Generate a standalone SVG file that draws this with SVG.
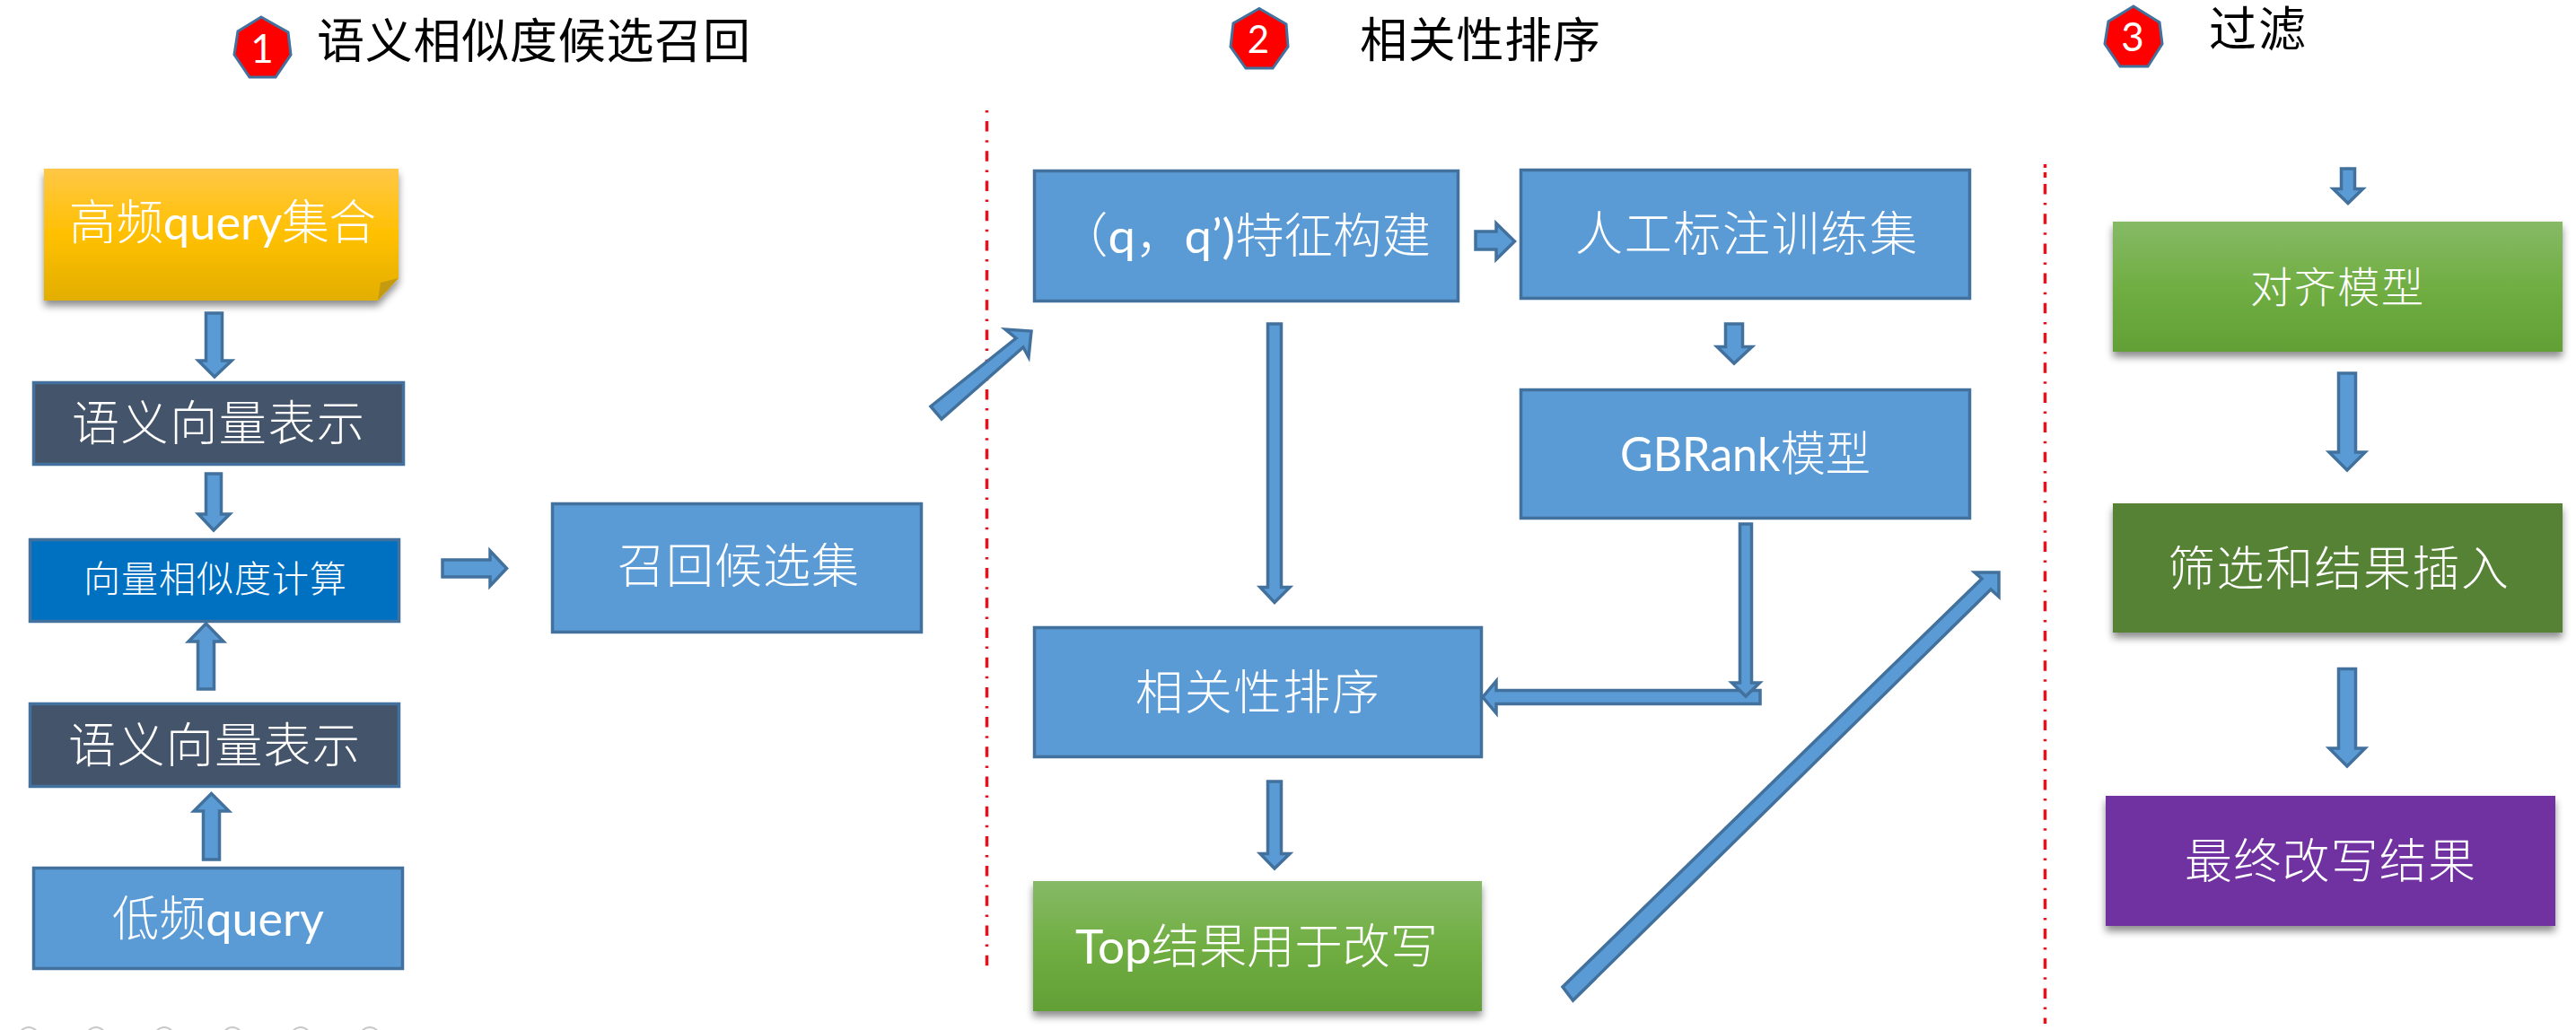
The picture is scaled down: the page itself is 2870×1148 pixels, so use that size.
<svg xmlns="http://www.w3.org/2000/svg" width="2870" height="1148" viewBox="0 0 2870 1148">
<style>
text{font-family:"Noto Sans CJK SC","Lato",sans-serif;font-size:53px;fill:#fff;font-weight:300}
.t{fill:#000;font-weight:400}
.d{font-family:"Lato","Noto Sans",sans-serif;font-size:44px;font-weight:400;text-anchor:middle}
.l{font-family:"Lato","Noto Sans",sans-serif;font-weight:400}
.b{fill:#5b9bd5;stroke:#41719c;stroke-width:3.5}
.n{fill:#44546a;stroke:#41719c;stroke-width:3.5}
.v{fill:#0070c0;stroke:#41719c;stroke-width:3.5}
.a{fill:#5b9bd5;stroke:#41719c;stroke-width:3.500;stroke-linejoin:miter}
.h{fill:#f00;stroke:#41719c;stroke-width:3}
.r{fill:none;stroke:#e8101c;stroke-width:3.5;stroke-dasharray:11.5 9.6 2.5 9.6}
.c{fill:none;stroke:#c8c8c8;stroke-width:2}
</style>
<defs>
<linearGradient id="gy" x1="0" y1="0" x2="0" y2="1"><stop offset="0" stop-color="#ffc746"/><stop offset=".5" stop-color="#ffc000"/><stop offset="1" stop-color="#e2ae00"/></linearGradient>
<linearGradient id="gg" x1="0" y1="0" x2="0" y2="1"><stop offset="0" stop-color="#86ba66"/><stop offset=".5" stop-color="#70ae43"/><stop offset="1" stop-color="#62a036"/></linearGradient>
<filter id="sh" x="-5%" y="-5%" width="110%" height="120%"><feDropShadow dx="0" dy="6" stdDeviation="4" flood-color="#000" flood-opacity=".45"/></filter>
</defs>
<g id="separators">
<path class="r" stroke-dashoffset="21.1" d="M1099.500 123V1082"/>
<path class="r" d="M2278.500 183v4M2278.500 192v6" style="stroke-dasharray:none"/>
<path class="r" d="M2278.500 205V1141"/>
</g>
<g id="page-dots">
<circle class="c" cx="32" cy="1156" r="11"/><circle class="c" cx="107" cy="1156" r="11"/><circle class="c" cx="183" cy="1156" r="11"/><circle class="c" cx="259" cy="1156" r="11"/><circle class="c" cx="335" cy="1156" r="11"/><circle class="c" cx="412" cy="1156" r="11"/>
</g>
<g id="badge-1"><polygon class="h" points="291,19 321,36 324,61 307,86 278,86 261,61 265,35"/><text class="d" x="292" y="70">1</text></g>
<g id="title-1"><text class="t" x="353" y="65" textLength="483">语义相似度候选召回</text></g>
<g id="badge-2"><polygon class="h" points="1403,9.5 1433,27 1435,52 1418,76 1388,76 1371,52 1374,26"/><text class="d" x="1402" y="59" style="font-size:42px">2</text></g>
<g id="title-2"><text class="t" x="1515" y="64" textLength="268">相关性排序</text></g>
<g id="badge-3"><polygon class="h" points="2377,7 2406,25 2409,49 2393,74 2362,74 2345,49 2349,24"/><text class="d" x="2376" y="57">3</text></g>
<g id="title-3"><text class="t" x="2461" y="52" textLength="108">过滤</text></g>

<g id="node-high-freq"><path d="M49 188H444V310L421 335H49Z" fill="url(#gy)" filter="url(#sh)"/><path d="M444 310L424 315L421 335Z" fill="#c49a10"/><text x="77" y="267" textLength="342" lengthAdjust="spacingAndGlyphs">高频<tspan class="l">query</tspan>集合</text></g>
<g id="node-sem-1"><rect class="n" x="37.500" y="426.500" width="412" height="91"/><text x="80" y="491" textLength="326">语义向量表示</text></g>
<g id="node-sim"><rect class="v" x="33.500" y="601.500" width="411" height="91"/><text x="93" y="660" style="font-size:41px" textLength="293">向量相似度计算</text></g>
<g id="node-sem-2"><rect class="n" x="33.500" y="784.500" width="411" height="92"/><text x="76" y="850" textLength="325">语义向量表示</text></g>
<g id="node-low-freq"><rect class="b" x="37.500" y="967.500" width="411" height="112"/><text x="125" y="1043" textLength="236" lengthAdjust="spacingAndGlyphs">低频<tspan class="l">query</tspan></text></g>
<g id="node-recall"><rect class="b" x="615.500" y="561.500" width="411" height="143"/><text x="688" y="650" textLength="269">召回候选集</text></g>

<g id="node-feature"><rect class="b" x="1152.500" y="190.500" width="472" height="145"/><text x="1180" y="282" textLength="414" lengthAdjust="spacingAndGlyphs">（<tspan class="l">q</tspan>，<tspan class="l">q’)</tspan>特征构建</text></g>
<g id="node-label"><rect class="b" x="1694.500" y="189.500" width="500" height="143"/><text x="1755" y="280" textLength="381">人工标注训练集</text></g>
<g id="node-gbrank"><rect class="b" x="1694.500" y="434.500" width="500" height="143"/><text x="1805" y="525" textLength="279" lengthAdjust="spacingAndGlyphs"><tspan class="l">GBRank</tspan>模型</text></g>
<g id="node-rank"><rect class="b" x="1152.500" y="699.500" width="498" height="144"/><text x="1265" y="791" textLength="272">相关性排序</text></g>
<g id="node-top"><rect x="1151" y="982" width="500" height="145" fill="url(#gg)" filter="url(#sh)"/><text x="1198" y="1074" textLength="404" lengthAdjust="spacingAndGlyphs"><tspan class="l">Top</tspan>结果用于改写</text></g>

<g id="node-align"><rect x="2354" y="247" width="501" height="145" fill="url(#gg)" filter="url(#sh)"/><text x="2507" y="337" style="font-size:47px" textLength="193">对齐模型</text></g>
<g id="node-filter"><rect x="2354" y="561" width="501" height="144" fill="#548235" filter="url(#sh)"/><text x="2415" y="653" textLength="380">筛选和结果插入</text></g>
<g id="node-final"><rect x="2346" y="887" width="501" height="145" fill="#7030a0" filter="url(#sh)"/><text x="2434" y="979" textLength="324">最终改写结果</text></g>

<g id="connectors">
<polygon class="a" points="229.500,349 247.500,349 247.500,402 258,402 239,420 221,402 229.500,402"/>
<polygon class="a" points="229.500,528 246.500,528 246.500,573 256,573 238,591 221,573 229.500,573"/>
<polygon class="a" points="220.500,768 238.500,768 238.500,715 249,715 229.500,695 210,715 220.500,715"/>
<polygon class="a" points="226.500,958 244.500,958 244.500,904 255,904 235.500,884.500 216,904 226.500,904"/>
<polygon class="a" points="493,624 546,624 546,614 564.500,633.500 546,653 546,643 493,643"/>
<polygon class="a" points="1037,453 1049,467 1140,387 1146,398 1149,369 1120,367 1132,377"/>
<polygon class="a" points="1644,258 1667,258 1667,249 1687.500,269 1667,289 1667,278 1644,278"/>
<polygon class="a" points="1922.500,361 1941.500,361 1941.500,386.500 1952,386.500 1932,405 1913,386.500 1922.500,386.500"/>
<polygon class="a" points="1412.500,361 1427.500,361 1427.500,654.500 1437,654.500 1420,671.500 1404,654.500 1412.500,654.500"/>
<polygon class="a" points="1961,769.500 1667,769.500 1667,759 1652,777 1667,795 1667,784.500 1961,784.500"/>
<polygon class="a" points="1938.500,584 1951.500,584 1951.500,761 1960.500,761 1945,776 1929.500,761 1938.500,761"/>
<polygon class="a" points="1412.500,871 1427.500,871 1427.500,951.500 1437,951.500 1420,968 1404,951.500 1412.500,951.500"/>
<polygon class="a" points="1741,1100 1752.500,1115 2218,657 2227,665 2227,638 2200,638 2208,645"/>
<polygon class="a" points="2608.500,188 2623.500,188 2623.500,210.500 2632.500,210.500 2616,226.500 2599.500,210.500 2608.500,210.500"/>
<polygon class="a" points="2605.500,416 2624.500,416 2624.500,504 2635,504 2615,524 2595,504 2605.500,504"/>
<polygon class="a" points="2605.500,745.500 2624.500,745.500 2624.500,834 2635,834 2615,854 2595,834 2605.500,834"/>
</g>
</svg>
